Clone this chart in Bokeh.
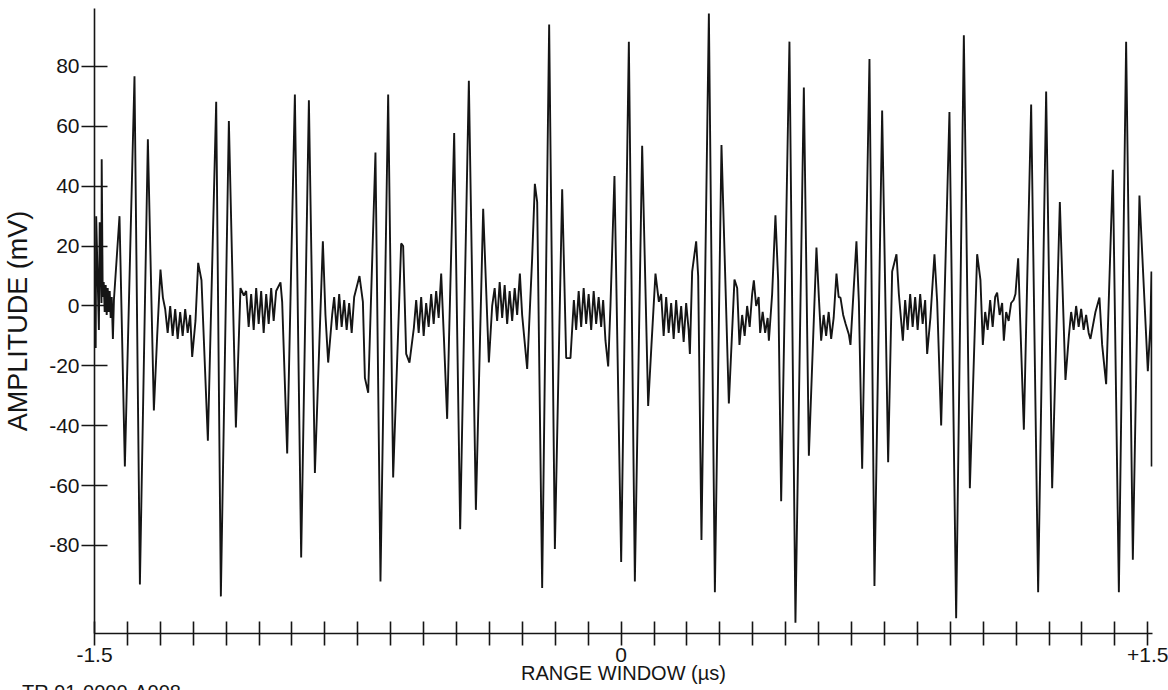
from bokeh.plotting import figure
from bokeh.models import Range1d, FixedTicker, Div
from bokeh.layouts import column
from bokeh.embed import file_html
from bokeh.resources import INLINE

# ---- data: time (us) and amplitude (mV) -----------------------------------
time_us = [
    -1.4966, -1.4952, -1.4875, -1.4852, -1.4801, -1.4795, -1.4766, -1.4738, -1.4710, -1.4681,
    -1.4653, -1.4624, -1.4596, -1.4567, -1.4539, -1.4510, -1.4476, -1.4447,
    -1.4288, -1.4135, -1.3861, -1.3707, -1.3480, -1.3309, -1.3215, -1.3121, -1.3052,
    -1.2987, -1.2916, -1.2844, -1.2773, -1.2702, -1.2631, -1.2560, -1.2489, -1.2417, -1.2346,
    -1.2275, -1.2218, -1.2124,
    -1.2047, -1.1953, -1.1771, -1.1534, -1.1401, -1.1173, -1.0973, -1.0842, -1.0746,
    -1.0680, -1.0609, -1.0538, -1.0466, -1.0395, -1.0324, -1.0253, -1.0182, -1.0110, -1.0039,
    -0.9968, -0.9897, -0.9826, -0.9703, -0.9655,
    -0.9512, -0.9293, -0.9114, -0.8894, -0.8723, -0.8496, -0.8422, -0.8345, -0.8231,
    -0.8174, -0.8103, -0.8031, -0.7960, -0.7889, -0.7818, -0.7747, -0.7675, -0.7604, -0.7453,
    -0.7356, -0.7299,
    -0.7205, -0.6998, -0.6855, -0.6636, -0.6494, -0.6266, -0.6209, -0.6123, -0.6029, -0.5904,
    -0.5838, -0.5767, -0.5696, -0.5625, -0.5554, -0.5483, -0.5411, -0.5340, -0.5269, -0.5198,
    -0.5126, -0.5050, -0.4956, -0.4907, -0.4756, -0.4585, -0.4338, -0.4138, -0.3930, -0.3768,
    -0.3674,
    -0.3603, -0.3532, -0.3460, -0.3389, -0.3318, -0.3247, -0.3176, -0.3104, -0.3033, -0.2962,
    -0.2885, -0.2820,
    -0.2677, -0.2535, -0.2458, -0.2392, -0.2250, -0.2051, -0.1888, -0.1680, -0.1566, -0.1444,
    -0.1347,
    -0.1282, -0.1210, -0.1139, -0.1068, -0.0997, -0.0926, -0.0854, -0.0783, -0.0712, -0.0641,
    -0.0570, -0.0513, -0.0447,
    -0.0370, -0.0305, -0.0191, 0.0000, 0.0219, 0.0390, 0.0598, 0.0769, 0.0863, 0.0977, 0.1074,
    0.1139, 0.1210, 0.1282, 0.1353, 0.1424, 0.1495, 0.1566, 0.1638, 0.1709, 0.1780, 0.1851,
    0.1922, 0.1957, 0.2022, 0.2136, 0.2193,
    0.2287, 0.2498, 0.2669, 0.2857, 0.3067, 0.3227, 0.3304, 0.3369,
    0.3446, 0.3517, 0.3588, 0.3660, 0.3731, 0.3779, 0.3845, 0.3916, 0.3959, 0.4030, 0.4101,
    0.4172, 0.4207, 0.4300,
    0.4394, 0.4471, 0.4557, 0.4793, 0.4964, 0.5203, 0.5346, 0.5562, 0.5631, 0.5696,
    0.5767, 0.5838, 0.5910, 0.5981, 0.6052, 0.6132, 0.6194, 0.6246, 0.6323, 0.6394, 0.6485,
    0.6531,
    0.6701, 0.6770, 0.6864, 0.7072, 0.7214, 0.7433, 0.7604, 0.7718, 0.7841, 0.7909, 0.8023,
    0.8088, 0.8160, 0.8231, 0.8302, 0.8373, 0.8444, 0.8516, 0.8587, 0.8658, 0.8715, 0.8809,
    0.8923, 0.9000, 0.9114, 0.9350, 0.9541, 0.9760, 0.9931, 1.0139, 1.0233, 1.0301,
    1.0367, 1.0438, 1.0509, 1.0581, 1.0652, 1.0708, 1.0780, 1.0851, 1.0899, 1.0965, 1.1036,
    1.1107, 1.1178, 1.1230,
    1.1307, 1.1372, 1.1469, 1.1677, 1.1876, 1.2104, 1.2275, 1.2494, 1.2654, 1.2751,
    1.2816, 1.2887, 1.2958, 1.3030, 1.3101, 1.3172, 1.3243, 1.3315, 1.3366, 1.3508, 1.3622,
    1.3699,
    1.3813, 1.4004, 1.4175, 1.4382, 1.4573, 1.4761, 1.5000, 1.5075, 1.5103, 1.5109,
]

amplitude_mv = [
    -14, 30, -8, 28, 1, 49, 3, 8, -2, 7,
    -3, 6, -2, 5, -4, 3, -11, 2,
    30, -53.6, 76.7, -93, 55.7, -34.9, -10, 12.2, 2.8,
    -1, -9, 0, -10, -1, -11, -2, -10, -1, -9,
    -3, -17, -5,
    14.4, 8.6, -45, 68.2, -97, 61.8, -40.6, 6, 3.5,
    5, -7, 4, -8, 6, -6, 5, -9, 4, -6,
    6, -5, 5, 7.9, 1.4,
    -49.3, 70.6, -84, 68.7, -55.8, 21.6, -3, -18.9, -3,
    3, -8, 4, -7, 2, -8, 1, -9, 3, 10,
    1.4, -24,
    -29, 51.3, -92, 70.6, -57.3, 20.9, 20, -16, -18.9, -7.3,
    2, -9, 3, -10, 1, -7, 4, -6, 5, -4,
    10.8, -10.2, -37.7, -13, 57.8, -74.6, 75.2, -68.1, 32.5, -18.9,
    0,
    6, -5, 8, -4, 7, -6, 5, -5, 6, -3,
    10.8, -3,
    -21, 16, 40.8, 34.7, -94.2, 94, -81.2, 39, -17.4, -17.4,
    2,
    -8, 5, -7, 6, -6, 4, -8, 5, -6, 3,
    -7, 2, -11.6,
    -20.2, 0, 43.4, -85.5, 88.3, -92, 53.5, -33.4, -13, 10.8, 1.4,
    4, -10, 3, -9, 1, -11, 2, -9, 0, -12, 1,
    -8, -16, 11.5, 21.6, 10,
    -78.2, 97.7, -95.6, 53.8, -32.6, 8.8, 6, -13,
    -3, -10, 0, -7, 4, 8.6, 0, 3, -9, -2, -9,
    -4, -11.6, 4,
    30.3, 8.6, -65.2, 88.3, -105.8, 73, -50, 19.5, 2.8, -11.6,
    -3, -10, -2, -11, -4, 10.8, 3, 2.8, -3, -6, -9.5,
    -13,
    21.6, 1.4, -54.4, 82.5, -93.5, 65.3, -52.2, 11.5, 17.3, 4, -11.6,
    2, -8, 4, -7, 3, -8, 4, -6, 2, -16, -3.7,
    17.3, 1.4, -39.9, 64.8, -104.3, 90.4, -60.9, 17.3, 8.6, -13,
    -2, -8, 2, -7, 3, 4.5, -3, 1, -11.6, -2, -5,
    1, 2, 4,
    15.9, -7.3, -41.3, 67.3, -95.6, 71.6, -60.9, 34.7, -24.7, -10,
    -2, -8, 0, -7, -1, -8, -3, -9, -11, -2, 2.8,
    -13,
    -26.1, 45.5, -95.6, 88.3, -84.8, 36.9, -21.8, -5.8, 11.5, -53.6,
]

y_ticks = [-80, -60, -40, -20, 0, 20, 40, 60, 80]
y_tick_labels = ["-80", "-60", "-40", "-20", "0", "20", "40", "60", "80"]
x_tick_step = 1.5 / 16          # 16 tick intervals between -1.5 and 0
x_ticks = [-1.5 + k * x_tick_step for k in range(33)]
x_tick_labels = {-1.5: "-1.5", 0.0: "0", 1.5: "+1.5"}

x_label = "RANGE WINDOW (\u00b5s)"
y_label = "AMPLITUDE (mV)"
footer = "TR 91-0000-A008"

FONT = "Liberation Sans"
INK = "#151515"

p = figure(
    frame_width=1058, frame_height=625,
    x_range=Range1d(-1.5, 1.5133), y_range=Range1d(-109.4, 99.37),
    min_border_left=91, min_border_right=18, min_border_top=8, min_border_bottom=57,
    output_backend="svg", toolbar_location=None, title=None,
)
p.outline_line_color = None
p.grid.visible = False
p.background_fill_color = "white"
p.border_fill_color = "white"

p.line(time_us, amplitude_mv, line_color=INK, line_width=1.9)

xa = p.xaxis[0]
xa.ticker = FixedTicker(ticks=x_ticks)
overrides = {}
for t in x_ticks:
    overrides[t] = ""
overrides.update(x_tick_labels)
xa.major_label_overrides = overrides
xa.major_tick_in = 12
xa.major_tick_out = 12
xa.minor_tick_line_color = None
xa.axis_line_width = 1.6
xa.major_tick_line_width = 1.6
xa.axis_line_color = INK
xa.major_tick_line_color = INK
xa.major_label_standoff = 2
xa.major_label_text_font = FONT
xa.major_label_text_font_size = "21px"
xa.major_label_text_color = INK
xa.axis_label = x_label
xa.axis_label_standoff = -3
xa.axis_label_text_font = FONT
xa.axis_label_text_font_size = "20px"
xa.axis_label_text_font_style = "normal"
xa.axis_label_text_color = INK

ya = p.yaxis[0]
ya.ticker = FixedTicker(ticks=y_ticks)
ya.major_label_overrides = dict(zip(y_ticks, y_tick_labels))
ya.major_tick_in = 13
ya.major_tick_out = 13
ya.minor_tick_line_color = None
ya.axis_line_width = 1.6
ya.major_tick_line_width = 1.6
ya.axis_line_color = INK
ya.major_tick_line_color = INK
ya.major_label_standoff = 2
ya.major_label_text_font = FONT
ya.major_label_text_font_size = "21px"
ya.major_label_text_color = INK
ya.axis_label = y_label
ya.axis_label_standoff = 13
ya.axis_label_text_font = FONT
ya.axis_label_text_font_size = "27px"
ya.axis_label_text_font_style = "normal"
ya.axis_label_text_color = INK

foot = Div(
    text=footer, width=300, height=8, margin=(-8, 0, 0, 22),
    styles={"font-family": "Liberation Sans", "font-size": "20px",
            "line-height": "1", "color": INK, "overflow": "hidden",
            "white-space": "nowrap"},
)

layout = column(p, foot, spacing=0)
open("out.html", "w").write(file_html(layout, INLINE))
